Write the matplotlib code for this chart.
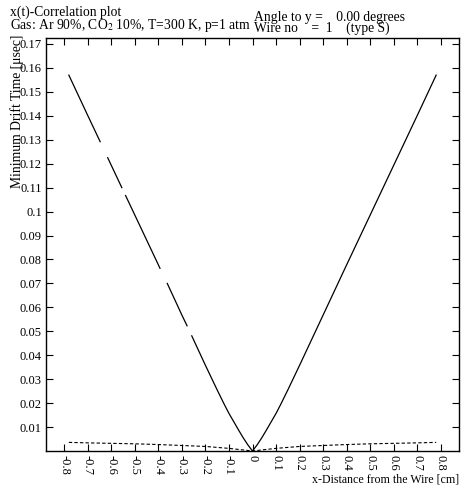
import numpy as np
import matplotlib
matplotlib.use("Agg")
import matplotlib.pyplot as plt

plt.rcParams['font.family'] = ['Liberation Serif', 'DejaVu Serif']
plt.rcParams['mathtext.fontset'] = 'stix'

# Minimum drift time, right branch (x >= 0)
x_right = [0.0, 0.02, 0.04, 0.06, 0.08, 0.10, 0.12, 0.15, 0.20, 0.30, 0.40, 0.50, 0.60, 0.70, 0.78]
t_right = [0.0, 0.0026, 0.0056, 0.0089, 0.0123, 0.0157, 0.0195, 0.0255, 0.0358, 0.0568, 0.0778,
           0.0986, 0.1194, 0.1402, 0.1570]

# Minimum drift time, left branch (x <= 0), with missing points (gaps)
x_left = [-0.78, -0.70, -0.647, np.nan, -0.615, -0.555, np.nan, -0.539, -0.50, -0.40, -0.393,
          np.nan, -0.362, -0.30, -0.278, np.nan, -0.258, -0.20, -0.15, -0.12, -0.10, -0.08, -0.06,
          -0.04, -0.02, 0.0]
t_left = [0.1570, 0.1402, 0.1292, np.nan, 0.1225, 0.1100, np.nan, 0.1067, 0.0986, 0.0778, 0.0763,
          np.nan, 0.0700, 0.0568, 0.0523, np.nan, 0.0481, 0.0358, 0.0255, 0.0195, 0.0157, 0.0123,
          0.0089, 0.0056, 0.0026, 0.0]

# Spread (dashed)
x_spread = [-0.78, -0.7, -0.6, -0.5, -0.4, -0.3, -0.2, -0.1, 0.0,
            0.1, 0.2, 0.3, 0.4, 0.5, 0.6, 0.7, 0.78]
t_spread = [0.0036, 0.0034, 0.0032, 0.0030, 0.0027, 0.0023, 0.0019, 0.0011, 0.0,
            0.0011, 0.0019, 0.0023, 0.0027, 0.0030, 0.0032, 0.0034, 0.0036]

x_ticks = [-0.8, -0.7, -0.6, -0.5, -0.4, -0.3, -0.2, -0.1, 0, 0.1, 0.2, 0.3, 0.4, 0.5, 0.6, 0.7, 0.8]
x_ticklabels = ['-0.8', '-0.7', '-0.6', '-0.5', '-0.4', '-0.3', '-0.2', '-0.1', '0',
                '0.1', '0.2', '0.3', '0.4', '0.5', '0.6', '0.7', '0.8']
y_ticks = [0.01, 0.02, 0.03, 0.04, 0.05, 0.06, 0.07, 0.08, 0.09, 0.1,
           0.11, 0.12, 0.13, 0.14, 0.15, 0.16, 0.17]
y_ticklabels = ['0.01', '0.02', '0.03', '0.04', '0.05', '0.06', '0.07', '0.08', '0.09', '0.1',
                '0.11', '0.12', '0.13', '0.14', '0.15', '0.16', '0.17']

W, H = 461, 487
fig = plt.figure(figsize=(W / 100, H / 100), dpi=100)
ax = fig.add_axes([46 / W, 1 - 451 / H, (459 - 46) / W, (451 - 38) / H])

ax.plot(x_right, t_right, color='black', lw=0.9)
ax.plot(x_left, t_left, color='black', lw=0.9)
ax.plot(x_spread, t_spread, color='black', lw=0.8, dashes=(3, 2))

ax.set_xlim(-0.877, 0.877)
ax.set_ylim(0, 0.1725)
ax.set_xticks(x_ticks)
ax.set_xticklabels(x_ticklabels, rotation=-90, fontsize=9)
ax.set_yticks(y_ticks)
ax.set_yticklabels(y_ticklabels, fontsize=9)
ax.tick_params(direction='in', length=5, width=0.8, top=True, right=True, pad=3)
for s in ax.spines.values():
    s.set_linewidth(1.0)

fs = 9.8
fig.text(10 / W, 1 - 12 / H, 'x(t)-Correlation plot', fontsize=fs, ha='left', va='center')
fig.text(10 / W, 1 - 26 / H, 'Gas: Ar 90%, CO$_2$ 10%, T=300 K, p=1 atm', fontsize=fs,
         ha='left', va='center')
fig.text(254 / W, 1 - 17 / H, 'Angle to y =    0.00 degrees', fontsize=fs, ha='left', va='center')
fig.text(254 / W, 1 - 28 / H, 'Wire no    =  1    (type S)', fontsize=fs, ha='left', va='center')
fig.text(459 / W, 1 - 479 / H, 'x-Distance from the Wire [cm]', fontsize=8.6, ha='right', va='center')
fig.text(17 / W, 1 - 35 / H, 'Minimum Drift Time [μsec]', fontsize=fs, rotation=90,
         ha='center', va='top')

fig.savefig('out.png', dpi=100)
